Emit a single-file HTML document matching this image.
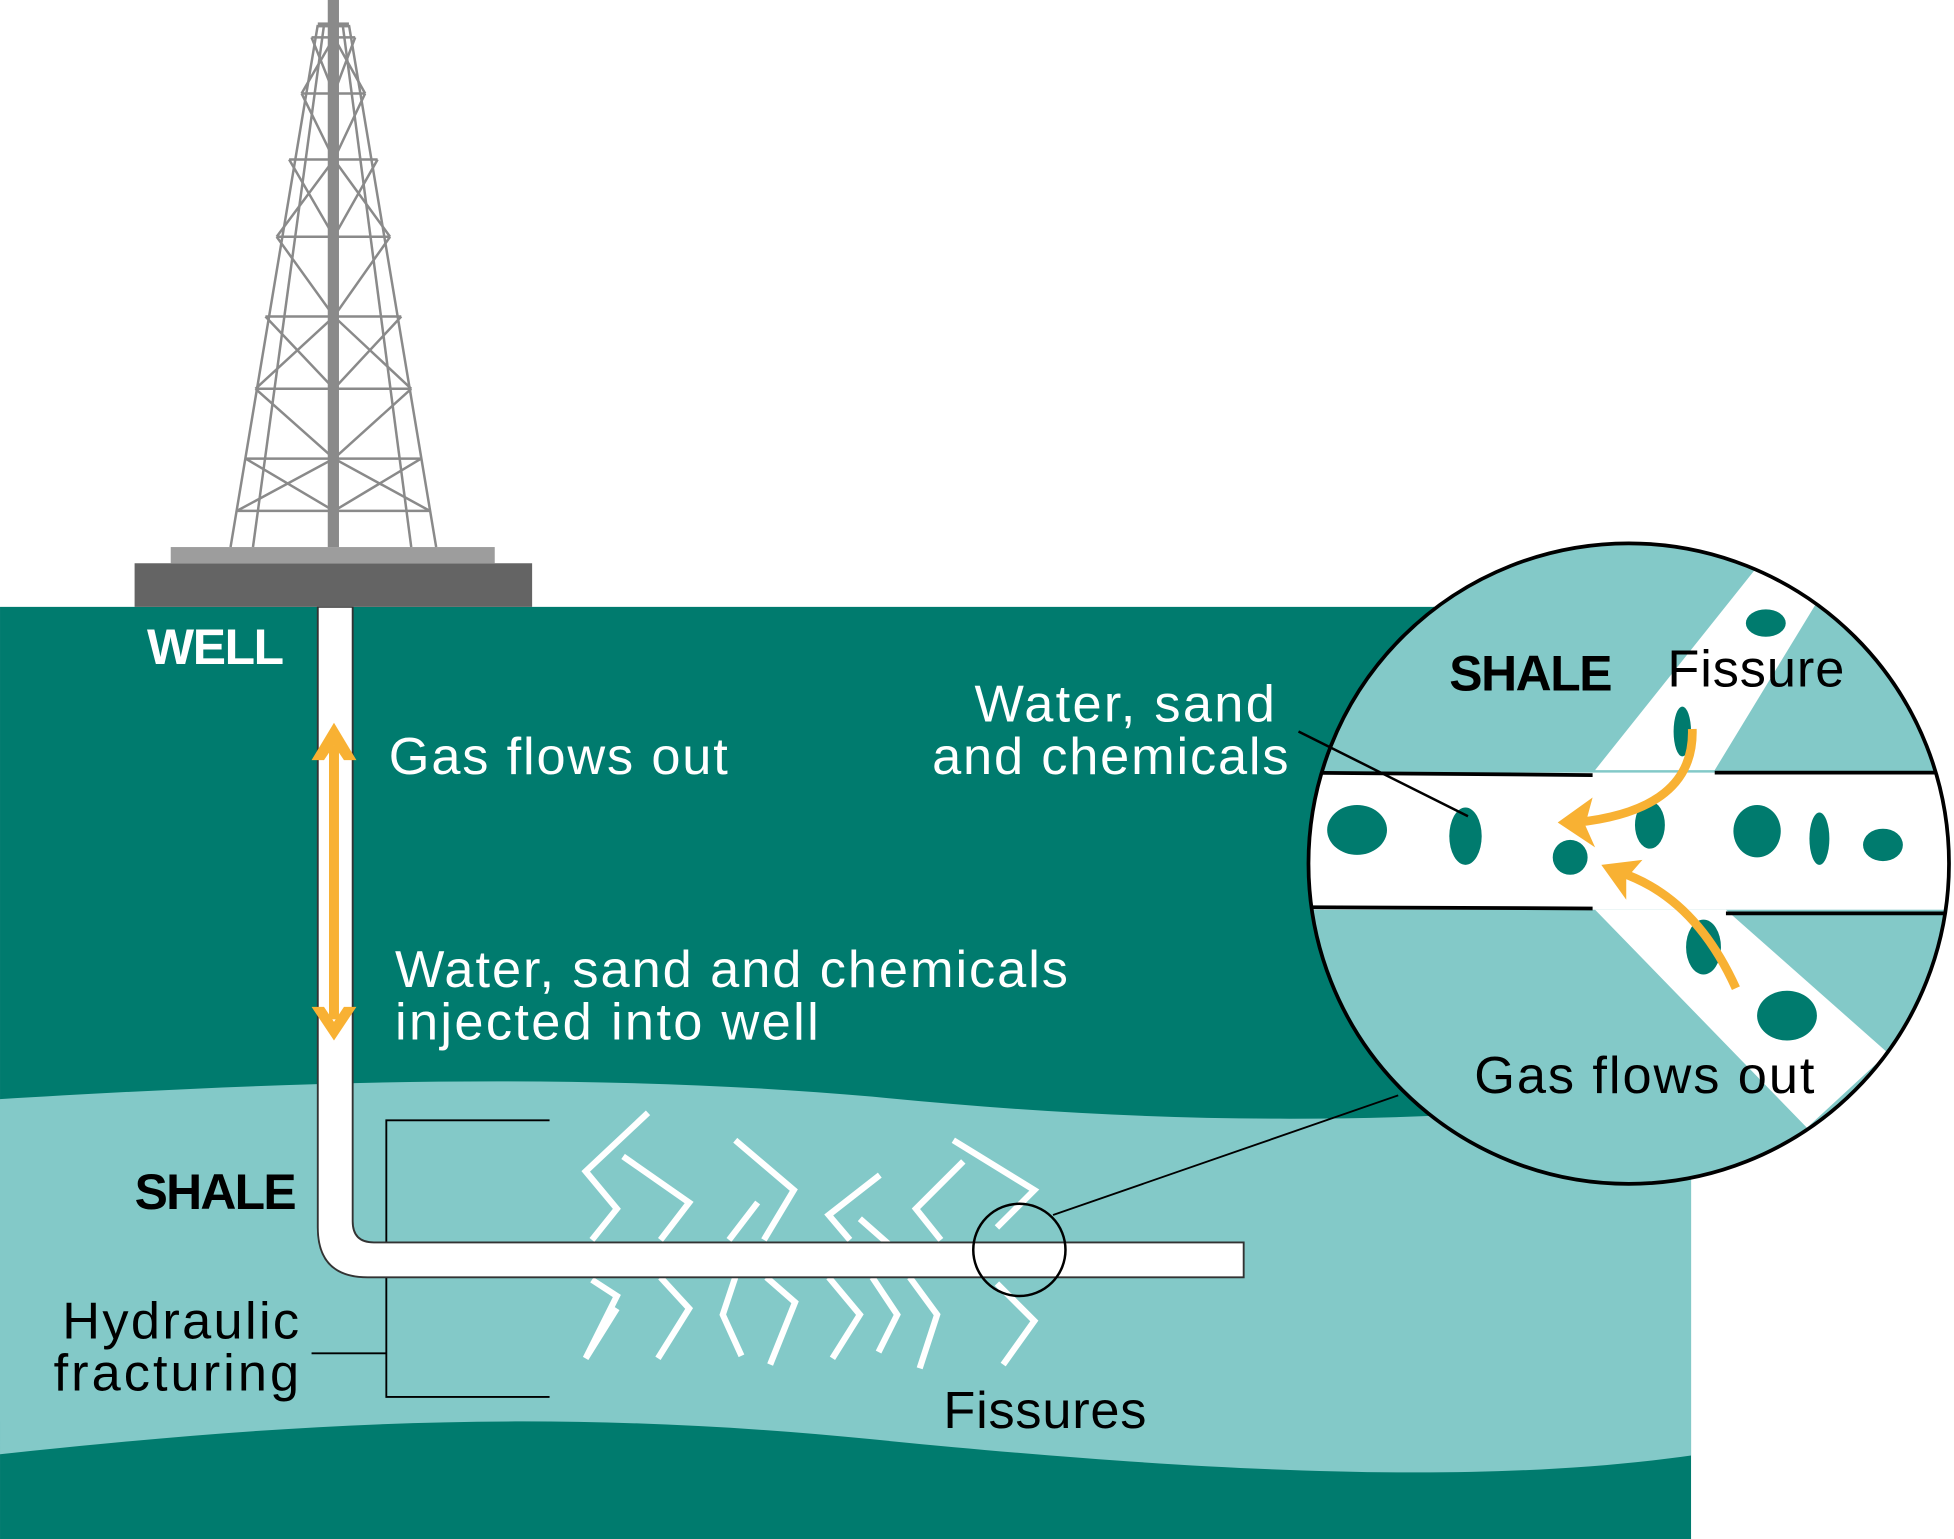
<!DOCTYPE html>
<html><head><meta charset="utf-8"><style>html,body{margin:0;padding:0;background:#fff}svg{display:block}</style></head>
<body>
<svg width="1954" height="1539" viewBox="0 0 1568 1235" xmlns="http://www.w3.org/2000/svg" font-family="Liberation Sans, sans-serif">
<rect x="0" y="487" width="1357" height="748" fill="#007b6e"/>
<rect x="1150" y="487" width="20" height="60" fill="#007b6e"/>
<path d="M0,882 C200,870 450,858 700,880 C850,895 1000,902 1160,895 L1357,892 L1357,1168 C1200,1190 1000,1185 700,1155 C450,1130 250,1140 0,1167 Z" fill="#83c9c8"/>
<g stroke="#000" stroke-width="1.5" fill="none">
<path d="M441,899 H310 V1121 H441"/>
<path d="M250,1086 H310"/>
<line x1="845" y1="975" x2="1122" y2="879"/>
</g>
<g stroke="#fff" stroke-width="5" fill="none" stroke-linejoin="miter">
<path d="M520,893 L470,940 L495,970 L475,995"/>
<path d="M500,928 L553,965 L530,995"/>
<path d="M590,915 L637,955 L613,995"/>
<path d="M608,965 L585,995"/>
<path d="M706,943 L665,975 L682,995"/>
<path d="M773,932 L735,970 L755,995"/>
<path d="M765,915 L830,955 L800,985"/>
<path d="M690,978 L715,1000"/>
<path d="M475,1027 L495,1040 L470,1090 L495,1050"/>
<path d="M530,1025 L553,1050 L528,1090"/>
<path d="M590,1025 L580,1055 L595,1088"/>
<path d="M615,1025 L638,1045 L618,1095"/>
<path d="M665,1025 L690,1055 L668,1090"/>
<path d="M700,1025 L720,1055 L705,1085"/>
<path d="M730,1025 L752,1055 L738,1098"/>
<path d="M800,1030 L830,1060 L805,1095"/>
</g>
<path d="M255,487 V985 Q255,1025 295,1025 H998 V997 H300 Q283,997 283,980 V487 Z" fill="#fff" stroke="#333" stroke-width="1.5"/>
<circle cx="818" cy="1003" r="37" fill="none" stroke="#000" stroke-width="2"/>
<g fill="#f8b133">
<rect x="264" y="598" width="8" height="220"/>
<path d="M250,610 L268,580 L286,610 L276,610 L268,598 L260,610 Z"/>
<path d="M250,808 L268,835 L286,808 L276,808 L268,820 L260,808 Z"/>
</g>
<rect x="108" y="452" width="319" height="35" fill="#646464"/>
<rect x="137" y="439" width="260" height="13" fill="#9d9d9d"/>
<g stroke="#8a8a8a" stroke-width="2" fill="none">
<line x1="185" y1="439" x2="255" y2="20"/>
<line x1="350" y1="439" x2="280" y2="20"/>
<line x1="203" y1="439" x2="260" y2="20"/>
<line x1="330" y1="439" x2="275" y2="20"/>
<path d="M190,410 H345 M197,368 H338 M205,312 H330 M213,254 H322 M222,190 H313 M232,128 H303 M242,75 H293 M250,30 H285"/>
<path d="M190,410 L268,368 L345,410 M197,368 L268,410 M338,368 L268,410 M205,312 L268,368 L330,312 M213,254 L268,312 L322,254 M222,190 L268,254 L313,190 M232,128 L268,190 L303,128 M242,75 L268,128 L293,75 M250,30 L268,75 L285,30 M205,312 L268,254 L330,312 M222,190 L268,128 L313,190 M242,75 L268,30 L293,75"/>
</g>
<rect x="263" y="0" width="9" height="439" fill="#8a8a8a"/>
<rect x="255" y="18" width="25" height="4" fill="#8a8a8a"/>
<defs><clipPath id="c"><circle cx="1307" cy="693" r="257"/></clipPath></defs>
<g clip-path="url(#c)">
<rect x="1040" y="430" width="540" height="530" fill="#83c9c8"/>
<polygon points="1410,455 1460,480 1376,618 1280,618" fill="#fff"/>
<polygon points="1280,730 1385,730 1515,845 1450,905" fill="#fff"/>
<rect x="1040" y="620" width="540" height="110" fill="#fff"/>
<g stroke="#000" stroke-width="3"><line x1="1040" y1="620" x2="1278" y2="622"/><line x1="1376" y1="620" x2="1570" y2="620"/><line x1="1040" y1="728" x2="1278" y2="729"/><line x1="1385" y1="733" x2="1570" y2="733"/></g>
<g fill="#007b6e">
<ellipse cx="1089" cy="666" rx="24" ry="20"/><ellipse cx="1176" cy="671" rx="13" ry="23"/><circle cx="1260" cy="688" r="14"/>
<ellipse cx="1324" cy="662" rx="12" ry="19"/><ellipse cx="1410" cy="667" rx="19" ry="21"/><ellipse cx="1460" cy="673" rx="8" ry="21"/><ellipse cx="1511" cy="678" rx="16" ry="13"/>
<ellipse cx="1417" cy="500" rx="16" ry="11"/><ellipse cx="1350" cy="587" rx="7" ry="20"/><ellipse cx="1367" cy="760" rx="14" ry="22"/><ellipse cx="1434" cy="815" rx="24" ry="20"/>
</g>
<g stroke="#f8b133" stroke-width="7" fill="none"><path d="M1358,585 Q1360,650 1265,660"/><path d="M1393,793 Q1360,720 1300,700"/></g>
<g fill="#f8b133"><path d="M1250,660 L1278,640 L1272,662 L1280,680 Z"/><path d="M1285,694 L1318,690 L1305,705 L1305,722 Z"/></g>
</g>
<circle cx="1307" cy="693" r="257" fill="none" stroke="#000" stroke-width="3"/>
<line x1="1042" y1="587" x2="1178" y2="655" stroke="#000" stroke-width="2"/>
<g font-size="42" fill="#fff">
<text x="118" y="533" font-weight="bold" font-size="40" textLength="110">WELL</text>
<text x="312" y="621" textLength="272">Gas flows out</text>
<text x="317" y="792" textLength="540">Water, sand and chemicals</text>
<text x="317" y="834" textLength="340">injected into well</text>
<text x="782" y="579" textLength="241">Water, sand</text>
<text x="748" y="621" textLength="286">and chemicals</text>
</g>
<g font-size="42" fill="#000">
<text x="108" y="970" font-weight="bold" font-size="40" textLength="130">SHALE</text>
<text x="50" y="1074" textLength="190">Hydraulic</text>
<text x="43" y="1116" textLength="197">fracturing</text>
<text x="757" y="1146" textLength="163">Fissures</text>
<text x="1163" y="554" font-weight="bold" font-size="40" textLength="131">SHALE</text>
<text x="1338" y="551" textLength="142">Fissure</text>
<text x="1183" y="877" textLength="273">Gas flows out</text>
</g>
</svg>
</body></html>
